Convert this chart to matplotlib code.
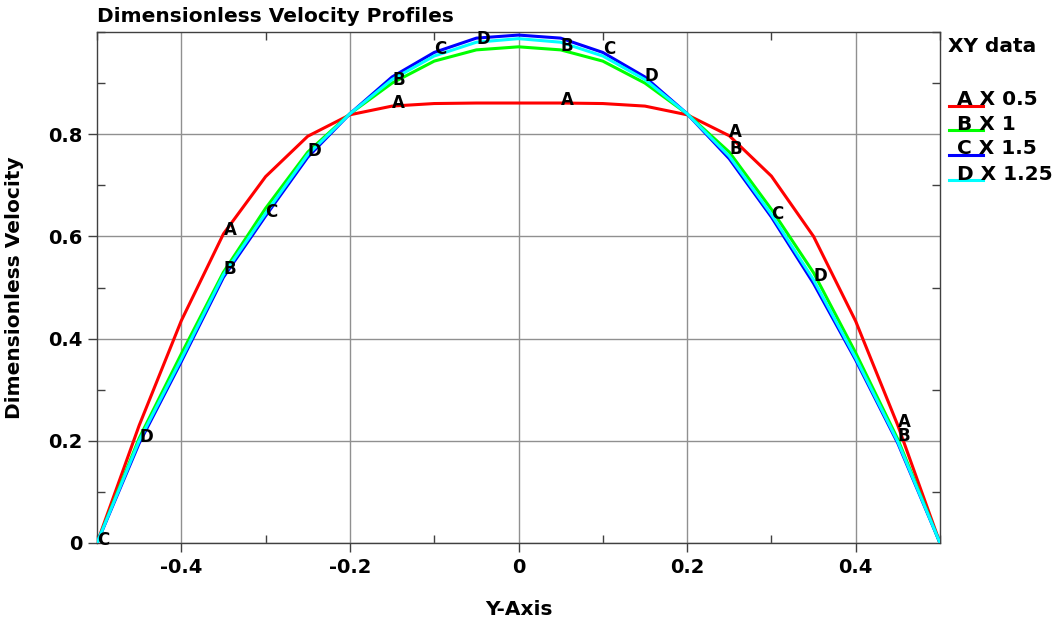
import matplotlib
matplotlib.use("Agg")
import matplotlib.pyplot as plt
from matplotlib.lines import Line2D
import numpy as np

plt.rcParams['font.family'] = ['DejaVu Sans']
plt.rcParams['font.weight'] = 'bold'

y_pos = [-0.5, -0.45, -0.4, -0.35, -0.3, -0.25, -0.2, -0.15, -0.1, -0.05, 0.0,
         0.05, 0.1, 0.15, 0.2, 0.25, 0.3, 0.35, 0.4, 0.45, 0.5]
vel_A = [0, 0.23, 0.435, 0.605, 0.717, 0.796, 0.838, 0.855, 0.86, 0.861, 0.861,
         0.861, 0.86, 0.855, 0.838, 0.797, 0.718, 0.6, 0.434, 0.23, 0]
vel_B = [0, 0.205, 0.37, 0.53, 0.655, 0.765, 0.84, 0.9, 0.943, 0.965, 0.971,
         0.965, 0.943, 0.9, 0.84, 0.765, 0.653, 0.529, 0.372, 0.203, 0]
vel_C = [0, 0.195, 0.355, 0.52, 0.64, 0.755, 0.84, 0.912, 0.96, 0.988, 0.994,
         0.988, 0.96, 0.912, 0.84, 0.752, 0.638, 0.508, 0.358, 0.195, 0]
vel_D = [0, 0.2, 0.36, 0.525, 0.645, 0.76, 0.84, 0.907, 0.953, 0.98, 0.987,
         0.98, 0.953, 0.907, 0.84, 0.757, 0.643, 0.515, 0.362, 0.198, 0]

labels = ["A", "B", "C", "D"]
names = ["X 0.5", "X 1", "X 1.5", "X 1.25"]
colors = ["#ff0000", "#00ff00", "#0000ff", "#00ffff"]
values = [vel_A, vel_B, vel_C, vel_D]
label_start = [3, 3, 0, 1]

fig = plt.figure(figsize=(10.61, 6.22), dpi=100)
ax = fig.add_axes([97/1061, 1 - 543/622, (940-97)/1061, (543-32)/622])

for letter, vals, color, start in zip(labels, values, colors, label_start):
    ax.plot(y_pos, vals, color=color, lw=2.2, zorder=3)
    for i in range(start, len(y_pos) - 1, 4):
        ax.annotate(letter, (y_pos[i], vals[i]), xytext=(0, 2.5),
                    textcoords='offset points', ha='left', va='center',
                    fontsize=12, fontweight='bold', color='black', zorder=5)

ax.set_xlim(-0.5, 0.5)
ax.set_ylim(0, 1.0)
ax.set_xticks([-0.4, -0.2, 0, 0.2, 0.4])
ax.set_xticklabels(["-0.4", "-0.2", "0", "0.2", "0.4"])
ax.set_yticks([0, 0.2, 0.4, 0.6, 0.8])
ax.set_yticklabels(["0", "0.2", "0.4", "0.6", "0.8"])
ax.set_xticks(np.arange(-0.5, 0.51, 0.1), minor=True)
ax.set_yticks(np.arange(0, 1.01, 0.1), minor=True)
ax.tick_params(which='major', direction='out', length=6.5, width=1,
               labelsize=14, color='#404040', pad=4)
ax.tick_params(which='minor', direction='in', length=6, width=1,
               top=True, right=True, color='#404040')
for lab in ax.get_xticklabels() + ax.get_yticklabels():
    lab.set_fontweight('bold')
ax.grid(True, which='major', color='#909090', lw=1.0, zorder=1)
for s in ax.spines.values():
    s.set_color('#404040')
    s.set_linewidth(1.0)

ax.set_xlabel("Y-Axis", fontsize=14.5, fontweight='bold', labelpad=17)
ax.set_ylabel("Dimensionless Velocity", fontsize=14.5, fontweight='bold', labelpad=17)
fig.text(97/1061, 1 - 16/622, "Dimensionless Velocity Profiles", fontsize=14.5,
         fontweight='bold', ha='left', va='center')

# legend
fig.text(948/1061, 1 - 46/622, "XY data", fontsize=14.5, fontweight='bold',
         ha='left', va='center')
line_ys = [105.5, 130, 155, 180]
for letter, name, color, ly in zip(labels, names, colors, line_ys):
    fig.add_artist(Line2D([949/1061, 983/1061], [1 - ly/622, 1 - ly/622],
                          color=color, lw=2.2, transform=fig.transFigure))
    fig.text(957/1061, 1 - (ly - 0.5)/622, letter + " " + name,
             fontsize=14.5, fontweight='bold', ha='left', va='baseline')

fig.savefig("out.png", dpi=100)
